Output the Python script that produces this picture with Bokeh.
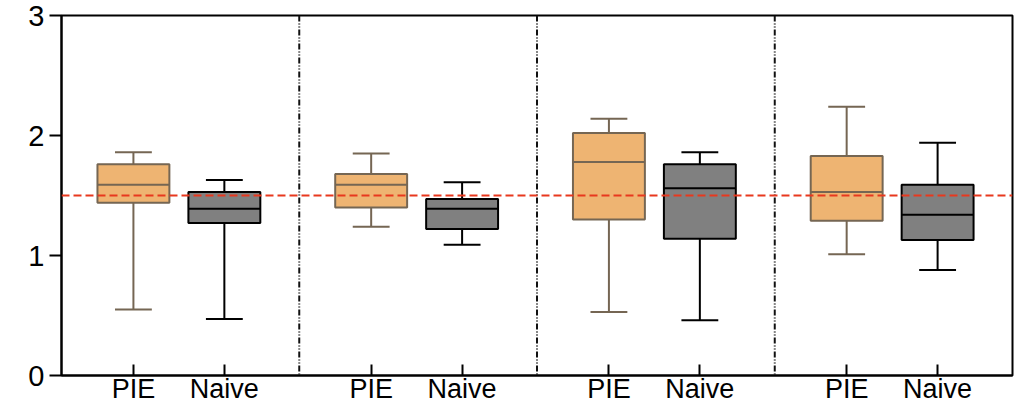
from bokeh.plotting import figure
from bokeh.models import Range1d, FixedTicker, Span
from bokeh.embed import file_html
from bokeh.resources import INLINE

# ---- data ----
groups = [1, 2, 3, 4]
series = ["PIE", "Naive"]
pie_low = [0.55, 1.24, 0.53, 1.01]
pie_q1 = [1.44, 1.40, 1.30, 1.29]
pie_med = [1.59, 1.59, 1.78, 1.53]
pie_q3 = [1.76, 1.68, 2.02, 1.83]
pie_high = [1.86, 1.85, 2.14, 2.24]
naive_low = [0.47, 1.09, 0.46, 0.88]
naive_q1 = [1.27, 1.22, 1.14, 1.13]
naive_med = [1.39, 1.39, 1.56, 1.34]
naive_q3 = [1.53, 1.47, 1.76, 1.59]
naive_high = [1.63, 1.61, 1.86, 1.94]
threshold = 1.5
y_ticks = [0, 1, 2, 3]

# ---- layout ----
offsets = {"PIE": 0.3025, "Naive": 0.685}
box_w = 0.3025
cap_w = 0.155
styles = {
    "PIE": dict(fill="#EEB472", line="#756653"),
    "Naive": dict(fill="#808080", line="#000000"),
}
data = {
    "PIE": (pie_low, pie_q1, pie_med, pie_q3, pie_high),
    "Naive": (naive_low, naive_q1, naive_med, naive_q3, naive_high),
}

p = figure(width=1020, height=406, output_backend="svg", toolbar_location=None,
           x_range=Range1d(0, len(groups)), y_range=Range1d(0, 3),
           min_border_left=61, min_border_right=8, min_border_top=15,
           min_border_bottom=31)
p.grid.visible = False
p.outline_line_color = "black"
p.outline_line_width = 2
p.background_fill_color = "white"
p.border_fill_color = "white"

for s in series:
    low, q1, med, q3, high = data[s]
    xs = [i + offsets[s] for i in range(len(groups))]
    st = styles[s]
    # whiskers
    p.segment(x0=xs, y0=q3, x1=xs, y1=high, line_color=st["line"], line_width=2)
    p.segment(x0=xs, y0=low, x1=xs, y1=q1, line_color=st["line"], line_width=2)
    p.segment(x0=[x - cap_w / 2 for x in xs], y0=high, x1=[x + cap_w / 2 for x in xs], y1=high,
              line_color=st["line"], line_width=2)
    p.segment(x0=[x - cap_w / 2 for x in xs], y0=low, x1=[x + cap_w / 2 for x in xs], y1=low,
              line_color=st["line"], line_width=2)
    # boxes
    p.quad(left=[x - box_w / 2 for x in xs], right=[x + box_w / 2 for x in xs],
           bottom=q1, top=q3, fill_color=st["fill"], line_color=st["line"], line_width=2)
    # medians
    p.segment(x0=[x - box_w / 2 for x in xs], y0=med, x1=[x + box_w / 2 for x in xs], y1=med,
              line_color=st["line"], line_width=2)

# group separators
for i in range(1, len(groups)):
    p.add_layout(Span(location=i, dimension="height", line_color="#111111",
                      line_width=2, line_dash="6 2 1 2 1 2"))

# threshold line
p.add_layout(Span(location=threshold, dimension="width", line_color="#E8381E",
                  line_width=2, line_dash="8 4"))

# axes
tick_pos = []
overrides = {}
for i in range(len(groups)):
    for s in series:
        t = i + offsets[s]
        tick_pos.append(t)
        overrides[t] = s
p.xaxis.ticker = FixedTicker(ticks=tick_pos)
p.xaxis.major_label_overrides = overrides
p.xaxis.minor_tick_line_color = None
p.xaxis.major_tick_in = 11
p.xaxis.major_tick_out = 0
p.xaxis.major_tick_line_width = 2
p.xaxis.axis_line_width = 2
p.xaxis.major_label_text_font = "Liberation Sans"
p.xaxis.major_label_text_font_size = "27px"
p.xaxis.major_label_text_color = "black"
p.xaxis.major_label_standoff = -2

p.yaxis.ticker = FixedTicker(ticks=y_ticks)
p.yaxis.minor_tick_line_color = None
p.yaxis.major_tick_in = 0
p.yaxis.major_tick_out = 12
p.yaxis.major_tick_line_width = 2
p.yaxis.axis_line_width = 2
p.yaxis.major_label_text_font = "Liberation Sans"
p.yaxis.major_label_text_font_size = "29px"
p.yaxis.major_label_text_color = "black"
p.yaxis.major_label_standoff = 5

open("out.html", "w").write(file_html(p, INLINE))
